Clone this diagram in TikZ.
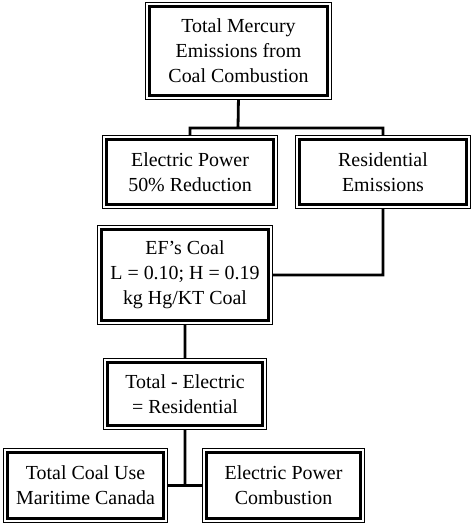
\documentclass[tikz,border=0pt]{standalone}
\usepackage{fontspec}
\setmainfont{Liberation Serif}
\usetikzlibrary{backgrounds}
\tikzset{
  hgbox/.style={draw,line width=3bp,align=center,inner sep=0pt,outer sep=0pt,
    font=\fontsize{20}{25}\selectfont},
  hgframe/.style={draw,line width=0.9bp,fill=white},
  hglink/.style={draw,line width=2.8bp}
}
\begin{document}
\begin{tikzpicture}[x=1bp,y=-1bp]
\useasboundingbox (0,0) rectangle (474,526);
% boxes
\node[hgbox,minimum width=178bp,minimum height=89bp] (total) at (238.5,51) {Total Mercury\\Emissions from\\Coal Combustion};
\node[hgbox,minimum width=167bp,minimum height=65bp] (elec)  at (190,172)  {Electric Power\\50\% Reduction};
\node[hgbox,minimum width=167bp,minimum height=65bp] (resid) at (383,172)  {Residential\\Emissions};
\node[hgbox,minimum width=167bp,minimum height=91bp] (ef)    at (185,275)  {EF's Coal\\L = 0.10; H = 0.19\\kg Hg/KT Coal};
\node[hgbox,minimum width=155bp,minimum height=63bp] (diff)  at (185,394)  {Total - Electric\\= Residential};
\node[hgbox,minimum width=156bp,minimum height=66bp] (coal)  at (85.5,485.5) {Total Coal Use\\Maritime Canada};
\node[hgbox,minimum width=154bp,minimum height=66bp] (comb)  at (283.5,485.5) {Electric Power\\Combustion};
\coordinate (split) at (238,128);
\coordinate (join) at (diff.south |- coal.east);
\begin{pgfonlayer}{background}
% connectors
\path[hglink]
    (total.south) -- (split)
    (elec.north) |- (split) -| (resid.north)
    (resid.south) |- (ef.east)
    (ef.south) -- (diff.north)
    (diff.south) -- (join)
    (coal.east) -- (comb.west);
% outer thin frames
\foreach \n in {total,elec,resid,ef,diff,coal,comb}
  \draw[hgframe] ([shift={(-4.2bp,-4.2bp)}]\n.south west) rectangle ([shift={(4.2bp,4.2bp)}]\n.north east);
\end{pgfonlayer}
\end{tikzpicture}
\end{document}
